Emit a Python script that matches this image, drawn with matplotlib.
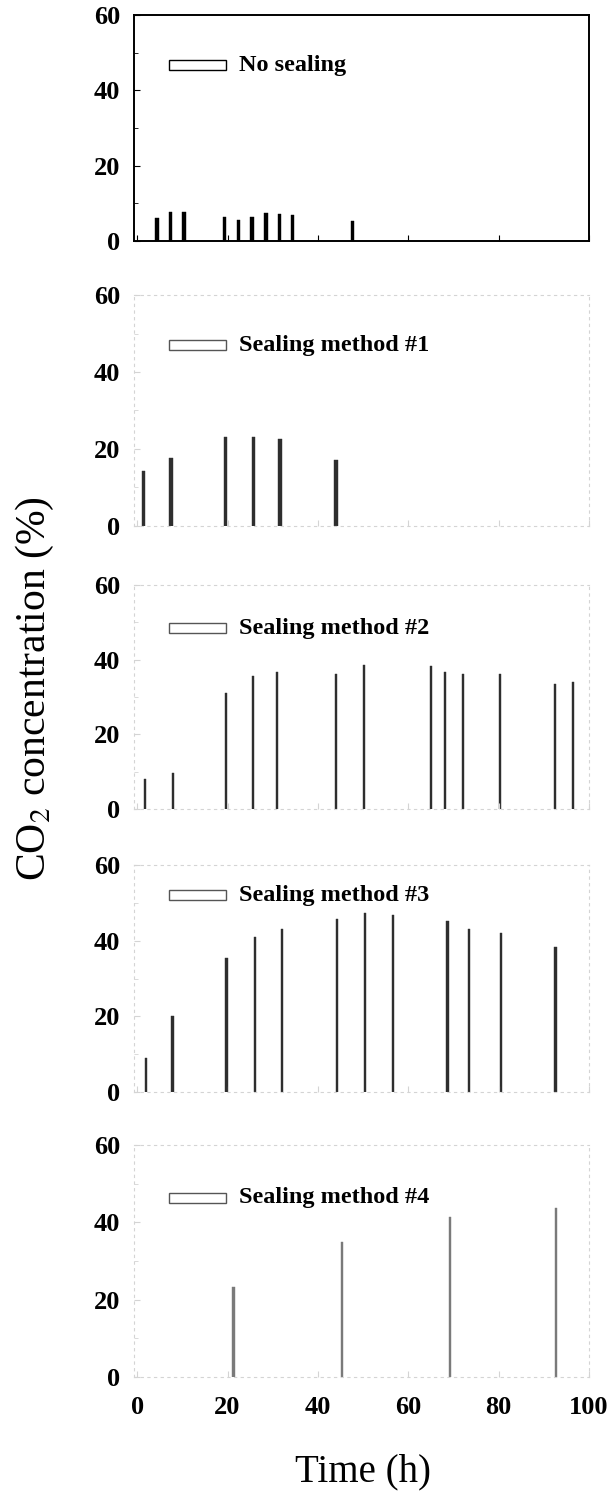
import matplotlib.pyplot as plt
from matplotlib.patches import Rectangle

# -------------------------------
# Data
# -------------------------------
labels = ["No sealing", "Sealing method #1", "Sealing method #2",
          "Sealing method #3", "Sealing method #4"]

t_none = [4.4, 7.4, 10.4, 19.3, 22.4, 25.4, 28.5, 31.5, 34.4, 47.6]
co2_none = [6.0, 7.8, 7.8, 6.4, 5.5, 6.4, 7.5, 7.3, 6.8, 5.3]

t_m1 = [1.4, 7.5, 19.5, 25.7, 31.6, 44.0]
co2_m1 = [14.4, 17.6, 23.0, 23.0, 22.5, 17.1]

t_m2 = [1.8, 7.9, 19.7, 25.7, 30.9, 44.0, 50.2, 65.0, 68.1, 72.1, 80.3, 92.5, 96.5]
co2_m2 = [8.0, 9.6, 31.2, 35.5, 36.8, 36.1, 38.5, 38.4, 36.6, 36.2, 36.2, 33.4, 33.9]

t_m3 = [1.9, 7.8, 19.8, 26.0, 32.1, 44.3, 50.4, 56.6, 68.7, 73.5, 80.5, 92.6]
co2_m3 = [8.9, 20.2, 35.4, 40.9, 43.0, 45.8, 47.4, 46.8, 45.2, 43.0, 42.0, 38.2]

t_m4 = [21.3, 45.3, 69.2, 92.7]
co2_m4 = [23.3, 35.0, 41.3, 43.6]

series = [(t_none, co2_none), (t_m1, co2_m1), (t_m2, co2_m2),
          (t_m3, co2_m3), (t_m4, co2_m4)]
legend_y = [46.7, 47.0, 48.4, 52.0, 46.4]

# -------------------------------
# Style
# -------------------------------
plt.rcParams["font.family"] = ["Liberation Serif", "DejaVu Serif"]
plt.rcParams["mathtext.fontset"] = "stix"

bar_colors = ["black", "#2e2e2e", "#2e2e2e", "#2e2e2e", "#7a7a7a"]
bar_widths = [0.75, 0.7, 0.5, 0.5, 0.5]
frame_colors = ["black", "#d4d4d4", "#d4d4d4", "#d4d4d4", "#d4d4d4"]

# panel top / bottom in pixels
panel_px = [(15, 241), (295, 526), (585, 809), (865, 1092), (1145, 1377)]
W, H = 616, 1505
left_px, right_px = 134, 589

fig = plt.figure(figsize=(W / 100, H / 100), dpi=100)

for i, (top, bottom) in enumerate(panel_px):
    ax = fig.add_axes([left_px / W, 1 - bottom / H,
                       (right_px - left_px) / W, (bottom - top) / H])
    t, c = series[i]
    ax.bar(t, c, width=bar_widths[i], color=bar_colors[i],
           edgecolor=bar_colors[i], linewidth=0.3)

    ax.set_xlim(-0.7, 100)
    ax.set_ylim(0, 60)
    ax.set_yticks([0, 20, 40, 60])
    ax.set_yticks([10, 30, 50], minor=True)
    ax.set_xticks([0, 20, 40, 60, 80, 100])

    for side in ["top", "bottom", "left", "right"]:
        sp = ax.spines[side]
        sp.set_color(frame_colors[i])
        if i == 0:
            sp.set_linewidth(1.4)
        else:
            sp.set_linewidth(0.8)
            sp.set_linestyle((0, (2, 4)))

    ax.tick_params(axis="both", which="both", direction="in",
                   color=frame_colors[i] if i else "black")
    ax.tick_params(axis="y", which="major", length=4, pad=10,
                   labelsize=19)
    ax.tick_params(axis="y", which="minor", length=3)
    ax.tick_params(axis="x", which="major", length=4, pad=14,
                   labelsize=19)
    for lab in ax.get_yticklabels() + ax.get_xticklabels():
        lab.set_fontweight("bold")
    if i < len(panel_px) - 1:
        ax.tick_params(axis="x", labelbottom=False)

    # legend-like box and label
    ly = legend_y[i]
    edge = "black" if i == 0 else "#555555"
    ax.add_patch(Rectangle((7.1, ly - 1.3), 12.6, 2.6, facecolor="white",
                           edgecolor=edge, linewidth=1.0))
    ax.text(22.6, ly, labels[i], fontsize=17.5, fontweight="bold",
            va="center", ha="left")

fig.text(35 / W, 1 - 689 / H, "CO$_2$ concentration (%)", rotation=90,
         fontsize=30, ha="center", va="center")
fig.text(363 / W, 1 - 1472 / H, "Time (h)", fontsize=28,
         ha="center", va="center")

fig.savefig("out.png", dpi=100)
